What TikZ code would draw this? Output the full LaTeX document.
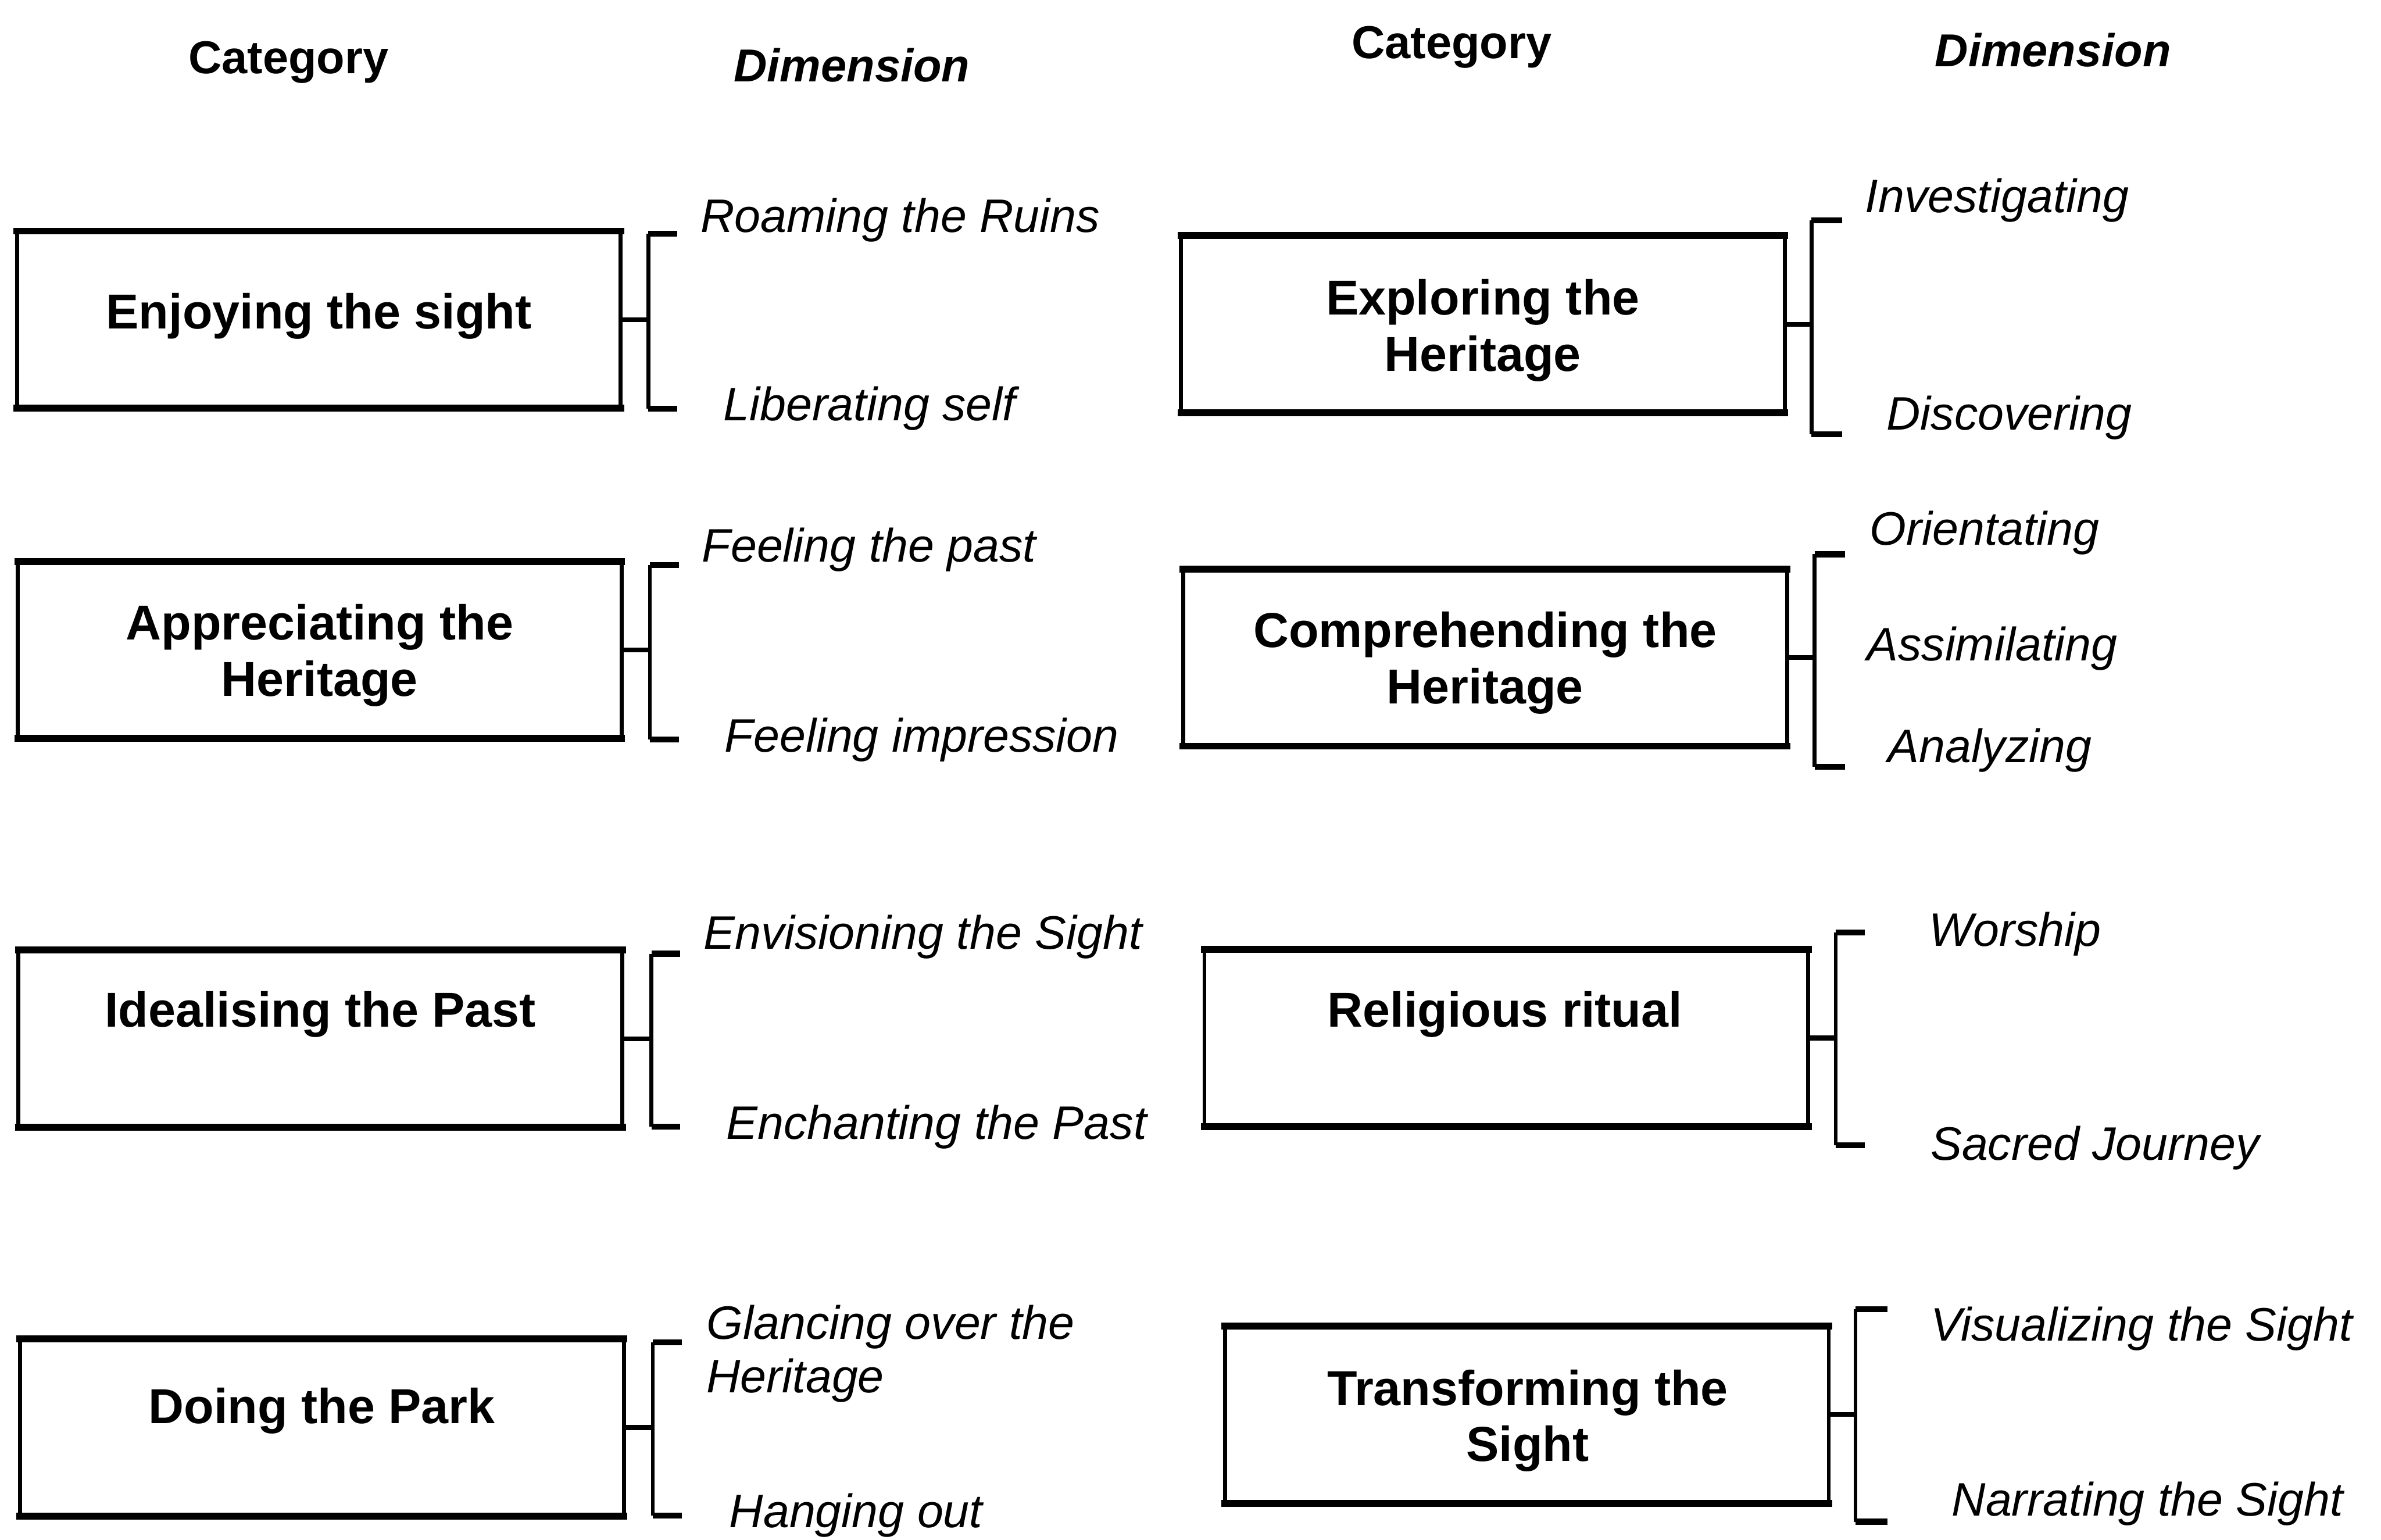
\documentclass[tikz,border=0pt]{standalone}
\usepackage{fontspec}
\setmainfont{Liberation Sans}
\begin{document}
\begin{tikzpicture}[x=0.02cm,y=-0.02cm,
  catbox/.style={draw=none,minimum width=7.94cm,minimum height=2.32cm,inner sep=0pt},
  edgeside/.style={line width=1.5pt},
  edgetb/.style={line width=2.6pt,line cap=rect},
  cattext/.style={font=\fontsize{18.4}{21}\selectfont\bfseries,align=center,inner sep=0pt,yshift=-0.06cm},
  dimtext/.style={font=\fontsize{17.6}{20}\selectfont\itshape,align=left,anchor=west,inner sep=0pt,yshift=-0.06cm},
  headcat/.style={font=\fontsize{17.3}{20}\selectfont\bfseries,inner sep=0pt,yshift=-0.06cm},
  headdim/.style={font=\fontsize{17.3}{20}\selectfont\bfseries\itshape,inner sep=0pt,yshift=-0.06cm},
  brk/.style={line width=1.4pt},
  tick/.style={line width=2.2pt},
  link/.style={line width=1.8pt}]
\path[use as bounding box,fill=white] (0,0) rectangle (1568,1014);

% column headers
\node[headcat] (hc1) at (190,38) {Category};
\node[headdim] (hd1) at (561,40) {Dimension};
\node[headcat] (hc2) at (956,28) {Category};
\node[headdim] (hd2) at (1352,30) {Dimension};

% category boxes
\foreach \n/\x/\y in {b1/210/210.5, b2/210.5/428, b3/211/684, b4/212/940,
                      b5/976.5/213.5, b6/978/433, b7/992/683.5, b8/1005.5/931.5}{
  \node[catbox] (\n) at (\x,\y) {};
  \draw[edgeside] (\n.north west) -- (\n.south west) (\n.north east) -- (\n.south east);
  \draw[edgetb] (\n.north west) -- (\n.north east);
  \draw[edgetb] (\n.south west) -- (\n.south east);
}

% category names
\node[cattext] (t1) at (210,205) {Enjoying the sight};
\node[cattext] (t2) at (210.5,428.5) {Appreciating the\\Heritage};
\node[cattext] (t3) at (211,665) {Idealising the Past};
\node[cattext] (t4) at (212,926) {Doing the Park};
\node[cattext] (t5) at (976.5,214.5) {Exploring the\\Heritage};
\node[cattext] (t6) at (978,433.5) {Comprehending the\\Heritage};
\node[cattext] (t7) at (991,665) {Religious ritual};
\node[cattext] (t8) at (1006,932.5) {Transforming the\\Sight};

% brackets: top end, bottom end, joint on the spine
\foreach \n/\b/\s/\tp/\bt/\e in {1/b1/427/154/269/446, 2/b2/428/372/487/447,
    3/b3/429/628/742/448, 4/b4/430/884/998/449, 5/b5/1193/145/286/1213,
    6/b6/1195/365/505/1215, 7/b7/1209/614/754/1228, 8/b8/1222/862/1002/1243}{
  \coordinate (kt\n) at (\e,\tp);
  \coordinate (kb\n) at (\e,\bt);
  \coordinate (kj\n) at (\s,0 |- \b.east);
  \draw[brk] (\s,\tp) -- (\s,\bt);
  \draw[tick] (\s,\tp) -- (kt\n);
  \draw[tick] (\s,\bt) -- (kb\n);
  \draw[link] (\b.east) -- (kj\n);
}

% dimensions
\node[dimtext] (d1a) at (461,142) {Roaming the Ruins};
\node[dimtext] (d1b) at (476,266) {Liberating self};
\node[dimtext] (d2a) at (462,359) {Feeling the past};
\node[dimtext] (d2b) at (477,484) {Feeling impression};
\node[dimtext] (d3a) at (463,614) {Envisioning the Sight};
\node[dimtext] (d3b) at (478,739) {Enchanting the Past};
\node[dimtext] (d4a) at (465,888.5) {Glancing over the\\Heritage};
\node[dimtext] (d4b) at (480,995) {Hanging out};
\node[dimtext] (d5a) at (1228,129) {Investigating};
\node[dimtext] (d5b) at (1242,272) {Discovering};
\node[dimtext] (d6a) at (1231,348) {Orientating};
\node[dimtext] (d6b) at (1229,424) {Assimilating};
\node[dimtext] (d6c) at (1243,491) {Analyzing};
\node[dimtext] (d7a) at (1270,612) {Worship};
\node[dimtext] (d7b) at (1271,753) {Sacred Journey};
\node[dimtext] (d8a) at (1271,872) {Visualizing the Sight};
\node[dimtext] (d8b) at (1285,987) {Narrating the Sight};
\end{tikzpicture}
\end{document}
